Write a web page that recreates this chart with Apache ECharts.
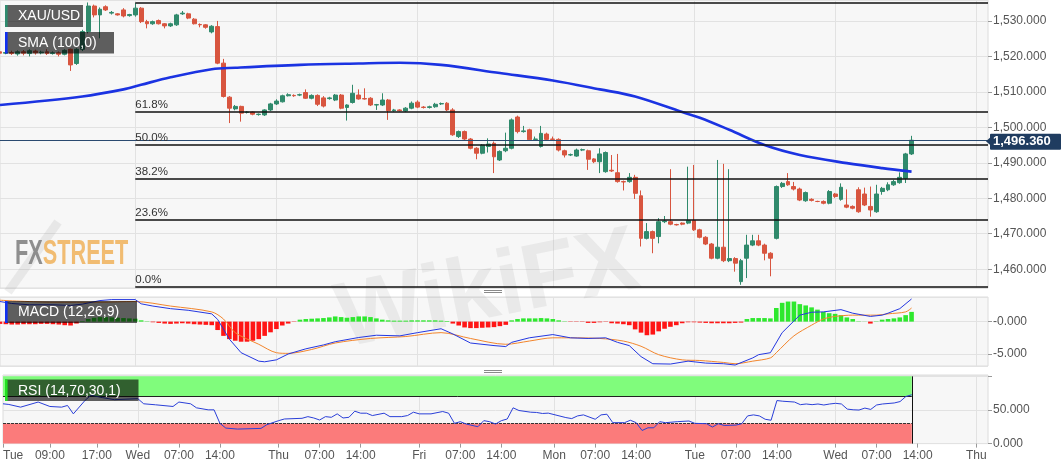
<!DOCTYPE html>
<html><head><meta charset="utf-8">
<script src="https://cdn.jsdelivr.net/npm/echarts@6/dist/echarts.min.js"></script>
<style>html,body{margin:0;padding:0;background:#fff}#c{width:1063px;height:469px}</style>
</head><body><div id="c"></div>
<script>
// ---- data (hour index counted in trading hours from Tue 00:00; weekend gap removed) ----
const firstHour = 1;
const lastHour = 169;
const hourTickLabels = {1:'Tue',9:'09:00',17:'17:00',24:'Wed',31:'07:00',38:'14:00',48:'Thu',55:'07:00',62:'14:00',
  72:'Fri',79:'07:00',86:'14:00',95:'Mon',102:'07:00',109:'14:00',119:'Tue',126:'07:00',133:'14:00',143:'Wed',150:'07:00',157:'14:00',167:'Thu'};
const dayStartHours = [24,48,72,95,119,143,167];
const priceTickLabels = {1460:'1,460.000',1470:'1,470.000',1480:'1,480.000',1490:'1,490.000',1500:'1,500.000',1510:'1,510.000',1520:'1,520.000',1530:'1,530.000'};
const macdTickLabels = {'-5':'-5.000','0':'-0.000'};
const rsiTickLabels = {'0':'0.000','50':'50.000'};
// XAU/USD hourly candles from hour 1: [open, close, low, high]
const ohlc = [
[1521.3,1520.9,1520.5,1521.6],[1520.9,1521.1,1520.6,1521.5],[1521.1,1520.8,1520.4,1521.6],[1520.7,1521.3,1520.2,1521.7],
[1521.3,1520.9,1520.3,1521.8],[1520.8,1521.6,1520.0,1522.0],[1521.5,1521.0,1520.5,1521.9],[1521.0,1521.2,1520.6,1521.6],
[1521.3,1520.8,1520.4,1522.0],[1520.8,1521.0,1520.5,1521.4],[1521.0,1520.6,1520.0,1521.4],[1520.6,1521.7,1520.3,1522.0],
[1522.0,1517.6,1515.9,1522.2],[1518.0,1522.0,1517.6,1522.3],[1522.0,1527.0,1521.5,1527.5],[1527.0,1534.2,1526.5,1535.2],
[1534.2,1531.7,1531.0,1534.6],[1531.7,1533.3,1525.1,1533.8],[1534.0,1533.1,1532.8,1534.4],[1532.2,1532.4,1531.8,1532.8],
[1532.0,1531.7,1531.5,1532.2],[1533.1,1531.4,1531.0,1533.6],[1531.5,1531.8,1531.2,1532.0],[1531.7,1533.6,1531.2,1535.0],
[1533.6,1529.8,1529.4,1533.9],[1529.8,1529.2,1527.9,1530.3],[1529.2,1529.8,1528.9,1530.1],[1530.1,1529.2,1529.0,1530.4],
[1529.2,1528.6,1527.9,1529.4],[1528.6,1529.2,1528.3,1529.5],[1528.9,1531.7,1528.6,1532.0],[1532.0,1532.2,1531.7,1532.8],
[1532.0,1530.8,1530.5,1532.3],[1530.5,1529.2,1529.0,1530.8],[1529.0,1528.9,1528.2,1529.3],[1528.9,1528.2,1527.8,1529.1],
[1526.9,1528.5,1526.5,1528.8],[1528.4,1518.1,1517.8,1530.0],[1518.1,1508.7,1508.4,1519.3],[1508.5,1505.4,1501.2,1508.8],
[1505.2,1505.9,1504.8,1506.3],[1505.9,1504.0,1501.6,1506.1],[1504.2,1504.3,1503.9,1504.6],[1504.3,1503.7,1503.4,1504.5],
[1503.6,1503.7,1503.3,1503.9],[1503.5,1504.9,1503.2,1505.1],[1504.9,1506.6,1504.6,1506.9],[1506.6,1507.4,1506.3,1507.9],
[1507.2,1508.9,1507.0,1509.2],[1508.9,1509.2,1508.7,1509.6],[1509.0,1508.9,1508.6,1509.3],[1509.1,1509.2,1508.8,1509.5],
[1509.8,1508.2,1508.0,1510.7],[1508.2,1509.0,1507.9,1509.3],[1509.0,1506.5,1506.0,1509.3],[1508.3,1506.0,1505.6,1508.8],
[1508.1,1508.3,1507.8,1508.6],[1507.7,1509.1,1507.4,1509.4],[1509.1,1505.4,1505.1,1509.4],[1505.6,1506.3,1501.9,1506.5],
[1507.0,1509.6,1506.7,1512.0],[1509.1,1508.0,1507.8,1510.7],[1508.1,1508.0,1507.8,1511.0],[1508.2,1506.3,1506.0,1508.5],
[1506.3,1506.4,1504.9,1506.6],[1506.3,1507.7,1506.0,1509.6],[1507.7,1504.7,1502.1,1508.0],[1504.7,1504.9,1504.4,1505.2],
[1504.9,1504.7,1504.5,1505.1],[1504.6,1505.4,1504.3,1505.7],[1505.4,1506.8,1505.1,1507.3],[1507.1,1505.7,1505.4,1507.6],
[1505.7,1505.6,1505.3,1506.0],[1505.6,1505.8,1505.3,1506.1],[1505.8,1506.5,1505.5,1506.9],[1506.6,1506.7,1506.3,1507.0],
[1506.8,1504.9,1504.6,1507.1],[1504.9,1497.9,1497.6,1505.4],[1497.4,1498.8,1497.0,1499.1],[1498.8,1496.7,1496.3,1499.1],
[1496.7,1494.1,1493.8,1497.0],[1494.1,1492.7,1491.0,1494.4],[1492.7,1495.0,1492.4,1495.3],[1494.6,1495.3,1492.9,1496.9],
[1495.5,1491.7,1487.1,1496.0],[1490.8,1493.2,1490.5,1493.5],[1493.4,1494.1,1493.0,1498.5],[1494.1,1502.1,1493.8,1502.5],
[1502.9,1498.8,1498.3,1503.3],[1498.8,1499.0,1498.5,1500.4],[1499.3,1496.5,1496.2,1499.6],[1496.6,1496.7,1496.3,1497.4],
[1494.6,1498.3,1494.3,1500.4],[1498.1,1496.6,1496.3,1498.5],[1496.7,1496.6,1496.2,1497.4],[1496.6,1493.6,1493.2,1496.9],
[1493.4,1492.2,1491.5,1493.7],[1492.2,1492.3,1491.9,1492.6],[1491.9,1493.6,1491.7,1494.0],[1493.6,1493.7,1493.3,1494.0],
[1493.4,1491.0,1488.0,1493.7],[1491.1,1490.3,1489.9,1491.3],[1490.3,1492.5,1487.1,1494.1],[1487.5,1492.9,1487.2,1493.2],
[1487.9,1487.7,1487.4,1492.2],[1487.2,1484.7,1484.4,1492.5],[1484.7,1484.6,1482.2,1485.0],[1484.7,1485.9,1484.4,1487.1],
[1485.9,1481.4,1479.8,1486.6],[1480.7,1468.7,1466.4,1482.2],[1468.7,1470.6,1468.4,1473.0],[1470.6,1468.7,1464.5,1470.9],
[1469.2,1473.4,1467.3,1474.4],[1473.4,1473.6,1473.0,1475.0],[1473.4,1472.7,1472.4,1488.2],[1472.6,1472.5,1472.3,1472.8],
[1473.0,1472.7,1472.4,1473.2],[1473.0,1473.7,1472.7,1488.9],[1473.7,1471.1,1470.8,1489.4],[1471.1,1469.0,1468.7,1471.4],
[1469.0,1467.1,1466.8,1469.3],[1467.1,1463.1,1462.8,1467.4],[1463.1,1466.2,1462.8,1490.8],[1466.2,1462.4,1462.0,1489.7],
[1462.4,1463.0,1462.0,1488.2],[1463.0,1461.7,1459.3,1463.4],[1456.5,1462.4,1455.6,1462.9],[1463.1,1466.8,1457.5,1469.7],
[1466.8,1468.0,1466.5,1469.7],[1468.0,1466.8,1466.5,1469.7],[1466.8,1464.5,1462.5,1467.2],[1464.5,1463.1,1458.0,1464.8],
[1468.7,1483.3,1468.4,1483.6],[1483.3,1484.2,1482.9,1484.6],[1484.7,1483.8,1483.5,1487.1],[1483.3,1482.6,1482.2,1484.6],
[1482.6,1479.5,1479.2,1483.0],[1479.3,1481.6,1479.0,1481.9],[1479.7,1479.4,1479.1,1480.0],[1479.1,1479.1,1478.9,1479.3],
[1479.1,1478.6,1478.3,1479.4],[1478.6,1481.9,1478.3,1482.3],[1481.2,1480.5,1480.1,1481.5],[1479.7,1483.1,1479.3,1484.2],
[1478.1,1477.5,1477.2,1482.5],[1477.7,1477.2,1476.9,1478.0],[1482.4,1476.2,1475.9,1483.1],[1481.2,1478.1,1477.8,1483.0],
[1477.7,1476.7,1474.8,1483.3],[1476.2,1481.2,1475.9,1483.8],[1481.9,1482.8,1481.0,1483.2],[1482.4,1483.8,1482.0,1484.5],
[1483.8,1484.7,1483.5,1485.2],[1484.4,1485.9,1484.1,1487.3],[1485.6,1492.5,1484.3,1492.8],[1492.5,1496.36,1492.2,1497.6]
];
const lastPrice = 1496.36;
// SMA(100) read at selected hours: [hour, value]
const smaPoints = [[1,1506.3],[15,1508.7],[22,1510.7],[25,1512.0],[30,1514.1],[37,1516.4],[41,1516.8],[52,1517.6],[62,1518.0],
  [69,1518.2],[76,1517.6],[86,1515.3],[95,1513.2],[103,1510.7],[109,1508.7],[117,1504.3],[120,1502.7],[125,1499.3],[131,1495.0],
  [137,1492.2],[145,1489.9],[151,1488.5],[156,1487.5]];
// Fibonacci retracement
const fibStartHour = 24;
const fibLabels = ['0.0%','23.6%','38.2%','50.0%','61.8%','100.0%'];
const fibValues = [1455.0,1473.9,1485.6,1495.0,1504.4,1535.0];
// MACD histogram from hour 1
const macdHist = [
-0.35,-0.4,-0.45,-0.45,-0.4,-0.4,-0.4,-0.35,-0.35,-0.4,-0.45,-0.55,-0.6,-0.3,
0.1,0.4,0.6,0.7,0.7,0.65,0.6,0.55,0.5,0.45,0.2,0.05,
-0.1,-0.2,-0.3,-0.35,-0.3,-0.25,-0.3,-0.4,-0.45,-0.5,-0.55,
-1.3,-2.2,-2.7,-2.95,-3.1,-3.1,-2.95,-2.7,-2.2,-1.65,-1.15,-0.6,-0.3,-0.05,
0.3,0.4,0.45,0.5,0.55,0.65,0.8,0.7,0.6,0.7,0.8,0.8,0.7,0.5,0.3,
0.2,0.15,0.15,0.15,0.2,0.2,0.2,0.2,0.2,0.15,0.1,
-0.3,-0.6,-0.9,-1.0,-1.0,-0.95,-0.9,-0.85,-0.7,-0.5,
0.2,0.4,0.5,0.5,0.5,0.55,0.5,0.4,0.2,
0.05,-0.05,-0.05,-0.05,-0.2,-0.2,-0.1,-0.05,
-0.25,-0.3,-0.4,-0.55,-1.2,-1.7,-2.1,-2.0,-1.5,-1.1,-0.8,-0.55,-0.25,-0.1,
-0.1,-0.15,-0.2,-0.25,-0.25,-0.25,-0.25,-0.2,-0.15,
0.4,0.55,0.55,0.55,0.5,
2.1,2.9,3.1,3.1,2.7,2.5,2.2,1.85,1.5,1.3,1.2,1.0,0.65,0.4,
0.05,0.02,-0.3,0.05,
0.3,0.4,0.5,0.65,1.0,1.5];
const macdLine = [[1,3.1],[3,2.8],[6,2.6],[10,2.6],[13,2.5],[15,2.7],[18,3.25],[20,3.4],[24,3.4],[25,2.75],[27,2.4],[30,2.0],
  [33,1.75],[37,1.2],[38,0.35],[40,-2.7],[42,-4.8],[45,-6.1],[46,-6.2],[48,-5.9],[50,-5.0],[53,-4.2],[56,-3.6],[58,-3.1],
  [62,-2.45],[65,-2.1],[69,-2.2],[72,-1.7],[76,-1.1],[78,-1.9],[81,-3.3],[85,-3.7],[87,-3.85],[88,-3.2],[91,-2.5],[95,-2.0],
  [98,-2.5],[101,-2.6],[104,-2.5],[106,-3.2],[108,-3.7],[110,-5.4],[112,-6.5],[115,-6.55],[118,-6.1],[121,-6.4],[124,-6.5],
  [126,-6.7],[129,-5.6],[130,-5.1],[132,-4.8],[134,-1.7],[136,0.1],[137,1.0],[139,1.45],[141,1.5],[144,1.85],[146,1.3],
  [149,0.8],[151,1.0],[152,1.3],[154,2.0],[156,3.5]];
const signalLine = [[1,3.3],[10,3.0],[18,3.0],[24,3.1],[30,2.4],[37,1.5],[39,0.4],[41,-1.7],[45,-3.5],[48,-4.8],[50,-4.9],
  [54,-4.3],[58,-3.3],[64,-2.6],[70,-2.3],[76,-1.7],[81,-2.6],[87,-3.5],[91,-3.0],[95,-2.5],[98,-2.5],[103,-2.6],[107,-3.0],
  [110,-3.8],[113,-5.1],[117,-5.9],[120,-6.0],[124,-6.3],[126,-6.5],[129,-6.1],[132,-5.6],[133,-4.8],[136,-2.2],[139,-0.55],
  [141,0.4],[143,0.8],[146,1.0],[148,1.0],[150,1.0],[152,1.2],[155,1.5],[156,2.1]];
const rsiPoints = [[1,59.2],[2,58.2],[4,54.2],[7,61.8],[9,55.2],[11,54.2],[12,56.7],[13,44.2],[15,64.3],[16,71.9],[18,68.3],
  [20,65.3],[24,66.8],[25,59.2],[27,57.7],[30,55.2],[31,61.8],[33,59.2],[34,53.2],[36,50.2],[37,50.2],[38,30.1],[39,23.1],
  [41,21.6],[45,22.6],[46,28.1],[48,34.1],[49,36.6],[52,37.6],[53,40.1],[54,38.1],[55,35.1],[56,40.1],[57,39.1],[58,44.2],
  [59,38.1],[60,39.1],[61,48.2],[62,45.2],[63,45.2],[64,41.7],[66,45.2],[67,40.1],[69,40.1],[70,41.7],[71,46.7],[72,44.2],
  [74,44.2],[76,47.7],[77,45.2],[78,30.1],[79,32.6],[80,29.1],[82,25.1],[83,34.1],[84,32.6],[85,29.1],[86,34.1],[87,36.6],
  [88,53.2],[89,49.2],[91,46.7],[92,46.3],[93,44.8],[94,45.3],[97,38.7],[98,37.2],[99,41.2],[100,42.7],[102,36.2],[103,42.7],
  [104,43.7],[105,31.1],[107,31.1],[108,34.7],[109,31.1],[110,19.5],[111,23.5],[112,23.5],[113,32.6],[114,31.1],[116,32.6],
  [118,33.6],[119,30.1],[121,29.6],[122,24.6],[123,29.6],[124,27],[126,27.5],[127,29.6],[128,41.2],[129,42.7],[130,41.2],
  [131,36.2],[132,34.7],[133,64],[134,63],[136,61.8],[137,57.9],[138,58.9],[139,57.9],[140,58.9],[141,57.4],[142,58.9],
  [143,59.9],[144,58.9],[145,51.3],[146,50.3],[147,49.9],[148,52.8],[149,50.8],[150,57.4],[151,58.9],[153,60.4],[154,62.5],
  [155,70.1],[156,72.6]];
const rsiUpper = 70, rsiLower = 30, rsiTop = 100;

// ---- chart ----
const FONT = "'Liberation Sans', Arial, sans-serif";
const UP = '#308a6c', DOWN = '#d8553f';
const categories = [];
for (let h = firstHour; h <= lastHour; h++) categories.push(String(h));
const idx = h => h - firstHour;
const lastDataIdx = idx(firstHour + ohlc.length - 1);
const lastIdx = idx(lastHour);
const isDay = (i) => dayStartHours.includes(i + firstHour);
const hasLabel = (i) => hourTickLabels[i + firstHour] !== undefined;
const pts = arr => arr.map(([h, v]) => [idx(h), v]);

const gridBase = {show: true, backgroundColor: '#f7f7f7', borderColor: '#dcdcdc', borderWidth: 1, left: 0, width: 988};
function xAxis(gi, withLabels) {
  return {
    type: 'category', gridIndex: gi, data: categories, boundaryGap: false,
    axisLine: {show: false},
    axisTick: withLabels ? {show: true, interval: hasLabel, length: 4, lineStyle: {color: '#999'}} : {show: false},
    axisLabel: withLabels ? {show: true, interval: hasLabel, color: '#555', fontSize: 12, fontFamily: FONT, margin: 6,
      alignMinLabel: 'left', formatter: (v) => hourTickLabels[+v] || ''} : {show: false},
    splitLine: {show: true, interval: isDay, lineStyle: {color: '#e2e2e2', width: 1}}
  };
}
const yLabel = {color: '#555', fontSize: 12, fontFamily: FONT, margin: 5, showMinLabel: false, showMaxLabel: false};
const yTick = {show: true, length: 4, lineStyle: {color: '#999'}};

const fibMark = fibValues.map((v, i) => [
  {coord: [idx(fibStartHour), v], label: {formatter: fibLabels[i]}},
  {coord: [lastIdx, v]}
]);

const option = {
  animation: false,
  textStyle: {fontFamily: FONT},
  grid: [
    Object.assign({top: 0, height: 288}, gridBase),
    Object.assign({top: 297, height: 69}, gridBase),
    Object.assign({top: 375, height: 68.6}, gridBase)
  ],
  xAxis: [xAxis(0, false), xAxis(1, false), xAxis(2, true)],
  yAxis: [
    {type: 'value', gridIndex: 0, position: 'right', min: 1454.7, max: 1535.9, splitNumber: 8,
      axisLine: {show: false}, axisTick: yTick, splitLine: {lineStyle: {color: '#e2e2e2'}},
      axisLabel: Object.assign({}, yLabel, {formatter: v => priceTickLabels[Math.round(v)] || ''})},
    {type: 'value', gridIndex: 1, position: 'right', min: -6.85, max: 3.8, splitNumber: 2,
      axisLine: {show: false}, axisTick: yTick, splitLine: {lineStyle: {color: '#e2e2e2'}},
      axisLabel: Object.assign({}, yLabel, {formatter: v => macdTickLabels[String(Math.round(v))] || ''})},
    {type: 'value', gridIndex: 2, position: 'right', min: 0, max: 102, splitNumber: 2,
      axisLine: {show: false}, axisTick: yTick, splitLine: {lineStyle: {color: '#e2e2e2'}},
      axisLabel: Object.assign({}, yLabel, {showMinLabel: true, formatter: v => rsiTickLabels[String(Math.round(v))] || ''})}
  ],
  series: [
    {type: 'candlestick', xAxisIndex: 0, yAxisIndex: 0, data: ohlc, barWidth: 4.4, z: 3,
      itemStyle: {color: UP, color0: DOWN, borderColor: UP, borderColor0: DOWN, borderWidth: 1},
      markLine: {silent: true, symbol: ['none', 'none'], animation: false,
        lineStyle: {color: '#111', width: 1.5, type: 'solid'},
        label: {show: true, position: 'insideStartTop', distance: [0, 1], color: '#333', fontSize: 11.5, fontFamily: FONT},
        emphasis: {disabled: true},
        data: fibMark.concat([{yAxis: lastPrice, lineStyle: {color: '#2a4a70', width: 1}, label: {show: false}}])}
    },
    {type: 'line', xAxisIndex: 0, yAxisIndex: 0, data: pts(smaPoints), smooth: 0.35, symbol: 'none', z: 4,
      lineStyle: {color: '#1b33e2', width: 2.6}},
    {type: 'bar', xAxisIndex: 1, yAxisIndex: 1, data: macdHist, barWidth: 4.6, z: 2,
      itemStyle: {color: p => p.value >= 0 ? '#2ee82e' : '#ff1515'}},
    {type: 'line', xAxisIndex: 1, yAxisIndex: 1, data: pts(macdLine), symbol: 'none', z: 4,
      lineStyle: {color: '#2437e0', width: 1}},
    {type: 'line', xAxisIndex: 1, yAxisIndex: 1, data: pts(signalLine), symbol: 'none', smooth: 0.3, z: 3,
      lineStyle: {color: '#f2852c', width: 1}},
    {type: 'line', xAxisIndex: 2, yAxisIndex: 2, data: pts(rsiPoints), symbol: 'none', z: 5,
      lineStyle: {color: '#2a3fd8', width: 1},
      markArea: {silent: true, data: [
        [{coord: [0, rsiUpper], itemStyle: {color: '#80fc7c'}}, {coord: [lastDataIdx, rsiTop]}],
        [{coord: [0, 0], itemStyle: {color: '#fb7b7b'}}, {coord: [lastDataIdx, rsiLower]}]
      ]},
      markLine: {silent: true, symbol: ['none', 'none'], label: {show: false}, emphasis: {disabled: true},
        data: [
          [{coord: [0, rsiUpper], lineStyle: {color: '#222', width: 1, type: 'solid'}}, {coord: [lastDataIdx, rsiUpper]}],
          [{coord: [0, rsiLower], lineStyle: {color: '#333', width: 1, type: [3, 1]}}, {coord: [lastDataIdx, rsiLower]}],
          [{coord: [lastDataIdx, 0], lineStyle: {color: '#111', width: 1, type: 'solid'}}, {coord: [lastDataIdx, rsiTop]}]
        ]}
    }
  ],
  graphic: []
};

const ZTOP = 200;
function labelBox(id, x, y, w, h, stripe, text) {
  return {type: 'group', id: id, children: [
    {type: 'rect', z: ZTOP, shape: {x: x, y: y, width: w, height: h}, style: {fill: 'rgba(0,0,0,0.62)'}},
    {type: 'rect', z: ZTOP, shape: {x: x, y: y, width: 2.6, height: h}, style: {fill: stripe}},
    {type: 'text', z: ZTOP + 1, style: {x: x + 13, y: y + h / 2 + 0.5, text: text, fill: '#fff', font: '14px ' + FONT,
      verticalAlign: 'middle', textVerticalAlign: 'middle'}}
  ]};
}

const chart = echarts.init(document.getElementById('c'));
chart.setOption(option);

const py = chart.convertToPixel({yAxisIndex: 0}, lastPrice);
const LOGO_FONT = "bold 35px 'Liberation Sans', Arial, sans-serif";
const graphics = [
  // watermarks
  {type: 'text', z: 1, silent: true, rotation: 0.2, x: 488, y: 292, style: {text: 'WikiFX', fill: 'rgba(120,120,120,0.1)',
    font: 'bold 92px ' + FONT, align: 'center', verticalAlign: 'middle', textAlign: 'center', textVerticalAlign: 'middle'}},
  {type: 'line', z: 1, silent: true, shape: {x1: 8, y1: 292, x2: 58, y2: 222}, style: {stroke: 'rgba(150,150,150,0.16)', lineWidth: 9}},
  {type: 'text', z: 2, silent: true, x: 15, y: 254, scaleX: 0.62, style: {x: 0, y: 0, text: '{a|FX}{b|STREET}', verticalAlign: 'middle', textVerticalAlign: 'middle',
    rich: {a: {fill: 'rgba(125,125,125,0.85)', font: LOGO_FONT},
           b: {fill: 'rgba(240,178,90,0.85)', font: LOGO_FONT}}}},
  // drag handles
  {type: 'line', shape: {x1: 484, y1: 290.5, x2: 502, y2: 290.5}, style: {stroke: '#8a8a8a', lineWidth: 1}},
  {type: 'line', shape: {x1: 484, y1: 292.5, x2: 502, y2: 292.5}, style: {stroke: '#8a8a8a', lineWidth: 1}},
  {type: 'line', shape: {x1: 484, y1: 370.5, x2: 502, y2: 370.5}, style: {stroke: '#8a8a8a', lineWidth: 1}},
  {type: 'line', shape: {x1: 484, y1: 372.5, x2: 502, y2: 372.5}, style: {stroke: '#8a8a8a', lineWidth: 1}},
  // legend boxes
  labelBox('lb1', 5, 5, 78, 22, '#2e8b6e', 'XAU/USD'),
  labelBox('lb2', 5, 32, 109, 21.5, '#1030f0', 'SMA (100,0)'),
  labelBox('lb3', 5, 301, 132, 22, '#1030f0', 'MACD (12,26,9)'),
  labelBox('lb4', 5, 379.5, 133.5, 21.5, '#22e022', 'RSI (14,70,30,1)'),
  // current price tag
  {type: 'group', children: [
    {type: 'polygon', z: ZTOP, shape: {points: [[986, py + 1], [991, py - 3.5], [991, py + 5.5]]}, style: {fill: '#1f3c60'}},
    {type: 'rect', z: ZTOP, shape: {x: 990, y: py - 6.5, width: 71, height: 16, r: 1}, style: {fill: '#1f3c60'}},
    {type: 'text', z: ZTOP + 1, style: {x: 993, y: py + 1.5, text: '1,496.360', fill: '#fff', font: 'bold 13px ' + FONT,
      verticalAlign: 'middle', textVerticalAlign: 'middle'}}
  ]}
];
chart.setOption({graphic: graphics});
</script>
</body></html>
